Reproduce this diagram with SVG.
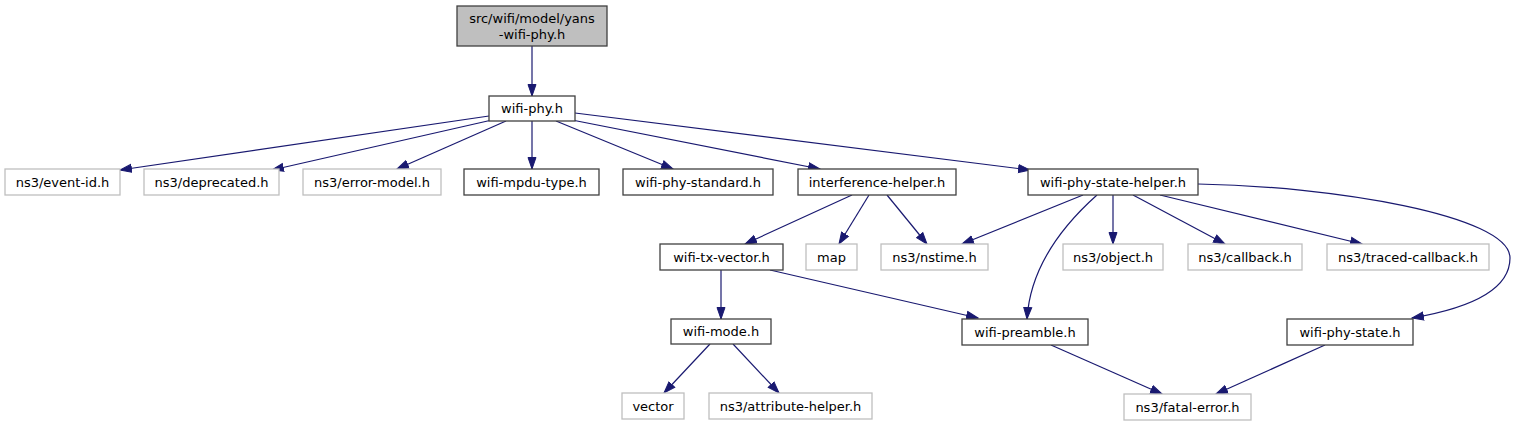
<svg xmlns="http://www.w3.org/2000/svg" width="1515" height="425" viewBox="0 0 1515 425">
<style>
text{font-family:"DejaVu Sans",sans-serif;font-size:13px;fill:#000;text-anchor:middle}
.n rect{fill:#fff;stroke:#404040;stroke-width:1.3}
.x rect{fill:#fff;stroke:#bfbfbf;stroke-width:1.3}
.root rect{fill:#bfbfbf;stroke:#404040;stroke-width:1.3}
.e{fill:none;stroke:#191970;stroke-width:1.2;marker-end:url(#a)}
</style>
<defs>
<marker id="a" markerUnits="userSpaceOnUse" markerWidth="13" markerHeight="11" refX="12" refY="4.5" orient="auto" viewBox="0 0 13 9">
<path d="M0.5,0.5 L12,4.5 L0.5,8.5 Z" fill="#191970" stroke="#191970" stroke-width="1"/>
</marker>
</defs>
<g id="connectors">
<path class="e" d="M532,46 L532,96"/>
<path class="e" d="M489,116 L120,170"/>
<path class="e" d="M492,120 L272,170"/>
<path class="e" d="M506,121 L397,169"/>
<path class="e" d="M532,121 L532,169"/>
<path class="e" d="M556,121 L673,169"/>
<path class="e" d="M572,120 L820,169"/>
<path class="e" d="M575,113 L1030,170"/>
<path class="e" d="M852,195 L745,244"/>
<path class="e" d="M869,195 L839,244"/>
<path class="e" d="M887,195 L927,244"/>
<path class="e" d="M1083,195 L962,244"/>
<path class="e" d="M1097,195 C1060,228 1030,270 1027,319"/>
<path class="e" d="M1113,195 L1113,244"/>
<path class="e" d="M1133,195 L1225,244"/>
<path class="e" d="M1160,195 L1362,244"/>
<path class="e" d="M1198,184 C1330,186 1510,215 1510,258 C1510,292 1465,309 1412,318"/>
<path class="e" d="M721,270 L721,319"/>
<path class="e" d="M770,270 L978,318"/>
<path class="e" d="M710,344 L664,393"/>
<path class="e" d="M733,344 L779,393"/>
<path class="e" d="M1051,345 L1162,394"/>
<path class="e" d="M1325,345 L1216,394"/>
</g>
<g id="yans-wifi-phy" class="root"><rect x="457" y="6" width="150" height="40"/><text x="532" y="23">src/wifi/model/yans</text><text x="532" y="39">-wifi-phy.h</text></g>
<g id="wifi-phy" class="n"><rect x="489" y="96" width="86" height="25"/><text x="532" y="113">wifi-phy.h</text></g>
<g id="event-id" class="x"><rect x="5" y="169" width="115" height="26"/><text x="62.5" y="187">ns3/event-id.h</text></g>
<g id="deprecated" class="x"><rect x="144" y="169" width="135" height="26"/><text x="211.5" y="187">ns3/deprecated.h</text></g>
<g id="error-model" class="x"><rect x="303" y="169" width="138" height="26"/><text x="372" y="187">ns3/error-model.h</text></g>
<g id="wifi-mpdu-type" class="n"><rect x="464" y="169" width="135" height="26"/><text x="531.5" y="187">wifi-mpdu-type.h</text></g>
<g id="wifi-phy-standard" class="n"><rect x="623" y="169" width="150" height="26"/><text x="698" y="187">wifi-phy-standard.h</text></g>
<g id="interference-helper" class="n"><rect x="798" y="169" width="158" height="26"/><text x="877" y="187">interference-helper.h</text></g>
<g id="wifi-phy-state-helper" class="n"><rect x="1028" y="169" width="170" height="26"/><text x="1113" y="187">wifi-phy-state-helper.h</text></g>
<g id="wifi-tx-vector" class="n"><rect x="660" y="244" width="123" height="26"/><text x="721.5" y="262">wifi-tx-vector.h</text></g>
<g id="map" class="x"><rect x="806" y="244" width="51" height="26"/><text x="831.5" y="262">map</text></g>
<g id="nstime" class="x"><rect x="881" y="244" width="107" height="26"/><text x="934.5" y="262">ns3/nstime.h</text></g>
<g id="object" class="x"><rect x="1063" y="244" width="100" height="26"/><text x="1113" y="262">ns3/object.h</text></g>
<g id="callback" class="x"><rect x="1188" y="244" width="114" height="26"/><text x="1245" y="262">ns3/callback.h</text></g>
<g id="traced-callback" class="x"><rect x="1327" y="244" width="162" height="26"/><text x="1408" y="262">ns3/traced-callback.h</text></g>
<g id="wifi-mode" class="n"><rect x="671" y="319" width="100" height="25"/><text x="721" y="336">wifi-mode.h</text></g>
<g id="wifi-preamble" class="n"><rect x="962" y="319" width="126" height="26"/><text x="1025" y="337">wifi-preamble.h</text></g>
<g id="wifi-phy-state" class="n"><rect x="1287" y="319" width="126" height="26"/><text x="1350" y="337">wifi-phy-state.h</text></g>
<g id="vector" class="x"><rect x="622" y="393" width="62" height="26"/><text x="653" y="411">vector</text></g>
<g id="attribute-helper" class="x"><rect x="709" y="393" width="163" height="26"/><text x="790.5" y="411">ns3/attribute-helper.h</text></g>
<g id="fatal-error" class="x"><rect x="1124" y="394" width="127" height="26"/><text x="1187.5" y="412">ns3/fatal-error.h</text></g>
</svg>
